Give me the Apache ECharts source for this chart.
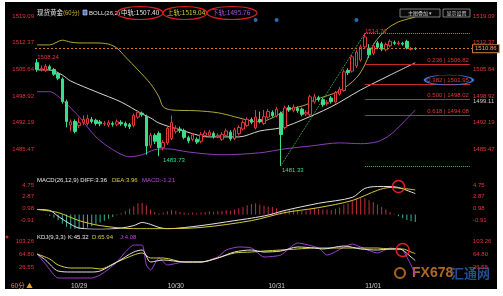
<!DOCTYPE html>
<html><head><meta charset="utf-8">
<script src="https://cdn.jsdelivr.net/npm/echarts@6/dist/echarts.min.js"></script>
<style>
html,body{margin:0;padding:0;background:#fff;}
#bg{position:absolute;left:5px;top:2px;width:492px;height:287px;background:#000;}
#c{position:absolute;left:0;top:0;width:503px;height:296px;}
</style>
</head><body><div id="bg"></div><div id="c"></div>
<script>
// ---------- DATA ----------
const slotCount = 104;
const categories = Array.from({length: slotCount}, (_, i) => String(i));
const dateLabelIdx = [10, 33, 57, 80];
const dateLabels = ['10/29', '10/30', '10/31', '11/01'];

// [open, close, low, high]
const ohlc = [
[1507.3,1505.6,1505.0,1508.24],[1505.6,1505.9,1505.1,1506.6],[1505.4,1506.4,1505.0,1507.0],[1506.3,1505.8,1505.3,1506.8],
[1505.6,1504.4,1504.0,1506.0],[1504.6,1503.4,1502.9,1505.0],[1503.2,1497.5,1497.0,1503.6],[1497.5,1492.5,1491.0,1498.0],
[1491.6,1492.4,1490.0,1493.0],[1492.5,1490.0,1489.5,1493.0],[1491.5,1492.2,1490.8,1493.5],[1492.2,1493.0,1491.6,1494.0],
[1492.0,1493.2,1491.5,1494.2],[1493.0,1492.5,1492.0,1493.6],[1492.8,1492.0,1491.5,1493.2],[1492.4,1491.9,1491.3,1492.9],
[1491.9,1492.0,1491.4,1492.6],[1491.6,1492.2,1491.1,1492.8],[1492.0,1491.8,1491.2,1492.5],[1491.8,1492.4,1491.3,1493.0],
[1492.3,1491.9,1491.4,1492.8],[1492.0,1491.4,1490.9,1492.5],[1491.7,1491.2,1490.6,1492.1],[1491.5,1494.0,1491.0,1494.5],
[1493.6,1494.8,1493.2,1495.3],[1494.6,1494.2,1493.7,1495.0],[1493.8,1486.3,1484.1,1494.2],[1486.5,1489.0,1485.8,1489.6],
[1489.0,1487.5,1486.8,1489.5],[1489.5,1485.9,1483.73,1490.0],[1485.9,1487.2,1485.2,1487.8],[1487.1,1490.8,1486.6,1491.4],
[1488.2,1492.2,1487.8,1494.0],[1490.0,1490.8,1489.4,1491.5],[1490.6,1490.2,1489.6,1491.2],[1490.2,1488.5,1488.0,1490.7],
[1488.4,1487.6,1487.0,1488.9],[1488.0,1489.1,1487.5,1489.6],[1488.0,1487.3,1486.8,1488.5],[1487.5,1489.2,1487.0,1489.8],
[1489.0,1489.6,1488.5,1490.2],[1489.0,1489.8,1488.6,1490.4],[1489.5,1488.7,1488.2,1490.0],[1488.8,1489.0,1488.3,1489.5],
[1488.0,1489.2,1487.6,1489.8],[1489.0,1490.1,1488.6,1490.7],[1489.8,1488.1,1487.6,1490.3],[1488.2,1490.4,1487.8,1490.9],
[1489.4,1491.0,1489.0,1491.5],[1490.6,1492.2,1490.2,1492.8],[1491.5,1493.0,1491.1,1493.6],[1493.0,1492.3,1491.8,1493.5],
[1490.9,1493.6,1490.5,1495.4],[1493.0,1492.5,1492.0,1495.0],[1492.0,1493.7,1491.6,1495.4],[1493.6,1495.0,1493.2,1495.6],
[1494.8,1494.0,1493.5,1495.3],[1493.9,1495.6,1493.5,1496.2],[1494.5,1489.2,1481.33,1495.0],[1491.0,1495.9,1490.5,1496.5],
[1496.0,1495.4,1494.9,1496.6],[1495.3,1496.1,1494.8,1496.8],[1495.8,1495.2,1494.7,1496.3],[1495.6,1494.3,1493.8,1496.0],
[1494.4,1494.8,1493.9,1495.3],[1494.2,1498.7,1493.8,1499.2],[1497.4,1498.7,1497.0,1499.5],[1498.5,1498.0,1497.5,1499.0],
[1498.0,1496.7,1496.2,1498.4],[1497.0,1497.3,1496.5,1497.9],[1498.4,1497.5,1497.0,1498.9],[1497.4,1499.7,1497.0,1500.2],
[1499.4,1500.6,1499.0,1501.2],[1500.3,1505.0,1500.0,1505.6],[1505.4,1504.8,1504.2,1505.9],[1505.2,1508.8,1504.8,1509.3],
[1506.5,1510.0,1506.0,1510.6],[1508.0,1511.3,1507.6,1511.9],[1511.3,1513.8,1510.9,1514.70],[1511.0,1509.3,1508.5,1512.0],
[1509.7,1511.6,1509.2,1512.2],[1512.3,1511.2,1510.7,1512.8],[1512.1,1510.7,1510.2,1512.6],[1510.6,1511.9,1510.2,1512.4],
[1511.6,1512.7,1511.2,1513.2],[1512.4,1512.2,1511.8,1512.9],[1512.1,1512.3,1511.7,1512.8],[1512.2,1512.0,1511.6,1512.6],
[1512.7,1511.1,1510.7,1513.1],[1510.7,1510.9,1510.4,1511.3],[1510.9,1510.86,1510.5,1511.2]
];

// Bollinger bands: [candle index, value]
const upperBand = [[0,1511.8],[3,1511.8],[6,1513.0],[8,1512.5],[10,1512.3],[14,1512.3],[17,1512.0],[19,1511.0],[21,1508.8],[24,1505.5],[27,1502.0],[29,1498.7],[30,1496.2],[32,1495.4],[38,1495.2],[43,1494.7],[47,1493.7],[51,1492.6],[53,1492.4],[56,1493.4],[59,1495.2],[64,1496.7],[66,1497.9],[72,1500.2],[76,1503.5],[78,1506.8],[80,1511.8],[83,1515.6],[86,1517.6],[90,1518.8]];
const middleBand = [[0,1505.5],[3,1505.5],[6,1504.2],[8,1502.7],[14,1500.0],[20,1497.4],[25,1494.4],[27,1493.4],[29,1492.1],[34,1490.4],[41,1488.6],[48,1488.6],[53,1490.1],[58,1490.9],[62,1492.4],[70,1496.2],[77,1500.45],[84,1504.2],[90,1507.3]];
const lowerBand = [[0,1500.0],[3,1500.0],[6,1497.9],[10,1493.7],[14,1488.6],[18,1485.4],[22,1483.6],[25,1484.1],[28,1485.4],[31,1485.6],[36,1484.8],[44,1484.1],[53,1484.6],[59,1485.6],[65,1486.3],[72,1487.1],[77,1486.9],[81,1487.4],[84,1489.1],[87,1492.1],[90,1495.4]];

const priceTicks = [1485.47, 1492.19, 1498.92, 1505.64, 1512.37, 1519.09];
const lastPrice = 1510.86;
const swingHigh = 1514.70, swingLow = 1481.33;
const fibRatios = ['0.236', '0.382', '0.500', '0.618'];
const fibLevels = [1506.82, 1501.95, 1498.02, 1494.08];
const eventMarks = [[52, 1518.08], [57, 1518.08], [76, 1518.08]];

// MACD
const macdHist = [
0.05,0.02,-0.05,-0.2,-0.5,-0.9,-1.5,-2.0,-2.3,-2.4,
-2.4,-2.3,-2.1,-1.9,-1.6,-1.3,-1.0,-0.7,-0.4,-0.15,
0.2,0.5,0.9,1.3,1.8,1.9,1.5,0.8,0.4,0.2,
0.3,0.5,0.7,0.6,0.4,0.3,0.2,0.3,0.2,0.3,
0.4,0.5,0.4,0.5,0.6,0.7,0.6,0.8,1.0,1.2,
1.5,1.7,1.8,1.6,1.4,1.3,1.2,1.0,0.5,0.6,
0.7,0.8,0.7,0.6,0.6,0.9,1.0,0.9,0.8,0.8,
0.7,0.9,1.1,1.6,1.8,2.2,2.5,2.6,2.6,2.3,
2.0,1.6,1.2,0.8,0.4,0.1,-0.3,-0.6,-0.9,-1.1,
-1.21];
const diffLine = [[0,0.8],[3,0.65],[5,-0.3],[8,-1.6],[10,-2.2],[15,-2.4],[20,-2.2],[23,-1.8],[25,-1.3],[27,-1.6],[29,-2.1],[31,-2.3],[39,-1.8],[47,-1.0],[51,-0.6],[55,-0.1],[59,0.65],[67,1.8],[75,2.75],[78,4.2],[81,4.5],[84,4.5],[86,4.35],[90,3.36]];
const deaLine = [[0,0.8],[5,0.3],[10,-1.0],[15,-1.8],[23,-2.3],[29,-2.3],[39,-2.1],[51,-1.0],[59,0.3],[67,1.1],[75,2.25],[81,3.9],[84,4.35],[87,4.2],[90,3.96]];
const macdTicks = [-0.91, 0.98, 2.87, 4.75];

// KDJ
const kLine = [[0,64.8],[2,47],[5,14.5],[8,11.6],[13,11.6],[15,14.5],[19,41],[23,70.7],[25,76.6],[27,41.1],[30,47.1],[35,41.1],[39,41.1],[43,53],[47,70.7],[51,76.6],[54,70.7],[58,73.6],[62,85.5],[66,82.5],[68,79.6],[73,88.4],[77,79.6],[81,76.6],[84,79.6],[86,79.6],[87,76.6],[89,56],[90,45.32]];
const dLine = [[0,64.8],[3,50],[5,32.3],[8,23.4],[13,23.4],[15,20.5],[19,41],[23,61.8],[25,67.8],[27,53],[30,53],[35,41.1],[39,41.1],[43,53],[47,67.8],[51,70.7],[54,73.6],[58,76.6],[62,79.6],[66,82.5],[73,82.5],[77,82.5],[81,82.5],[84,79.6],[87,79.6],[89,70.7],[90,65.94]];
const jLine = [[0,64.8],[2,35],[5,-6.2],[8,-6.2],[13,-6.2],[15,2.7],[17,20],[19,41],[21,70.7],[23,91.4],[25,91.4],[26,32.3],[27,17.5],[29,53],[31,32.3],[35,41.1],[39,41.1],[43,56],[45,76.6],[48,85.5],[51,82.5],[54,56],[58,61.8],[62,97.3],[67,82.5],[69,61.8],[75,94.3],[77,85.5],[81,67.8],[84,82.5],[86,79.6],[87,76.6],[89,32.3],[90,4.08]];
const kdjTicks = [26.55, 64.80, 103.26];

// ---------- CHART ----------
const RED = '#e0383c', GREEN = '#3ddc8a', FONT = '"Liberation Sans", Arial, sans-serif', CJK = '"Noto Sans CJK SC", sans-serif';
const chart = echarts.init(document.getElementById('c'), null, {renderer: 'canvas', width: 503, height: 296});

function xAx(gi, showLabel) {
  return {type: 'category', gridIndex: gi, data: categories, boundaryGap: true,
    axisLine: {show: false}, axisTick: {show: false}, splitLine: {show: false},
    axisLabel: showLabel ? {show: true, interval: 0, color: '#cfcfcf', fontSize: 6.5, fontFamily: FONT, margin: 3,
      formatter: (v, i) => { const k = dateLabelIdx.indexOf(i); return k >= 0 ? dateLabels[k] : ''; }} : {show: false}};
}
function yAx(gi, pos, min, max, ticks, fmt) {
  return {type: 'value', gridIndex: gi, position: pos, min: min, max: max, scale: true,
    axisLine: {show: false}, axisTick: {show: false}, splitLine: {show: false},
    axisLabel: {show: true, customValues: ticks, color: RED, fontSize: 6, fontFamily: FONT, margin: 1,
      formatter: fmt}};
}
const pf = v => v.toFixed(2);

const fibLines = fibLevels.map((lv, k) => [
  {coord: [categories[78], lv], label: {show: true, position: 'insideEndTop', formatter: fibRatios[k] + ' | ' + lv.toFixed(2), color: RED, fontSize: 6, fontFamily: FONT, distance: 1}},
  {coord: [categories[slotCount - 1], lv]}
]);
const greenStyle = {color: '#3cc060', type: 'dotted', width: 1};

const option = {
  backgroundColor: 'transparent',
  animation: false,
  grid: [
    {left: 35, right: 31, top: 16, height: 160},
    {left: 35, right: 31, top: 181, height: 48},
    {left: 35, right: 31, top: 233, height: 47}
  ],
  xAxis: [xAx(0, false), xAx(1, false), xAx(2, true)],
  yAxis: [
    yAx(0, 'left', 1478.75, 1519.09, priceTicks, pf),
    yAx(0, 'right', 1478.75, 1519.09, priceTicks, pf),
    yAx(1, 'left', -2.35, 5.395, macdTicks, pf),
    yAx(1, 'right', -2.35, 5.395, macdTicks, pf),
    yAx(2, 'left', -12.1, 126.9, kdjTicks, pf),
    yAx(2, 'right', -12.1, 126.9, kdjTicks, pf)
  ],
  series: [
    {type: 'line', xAxisIndex: 0, yAxisIndex: 0, data: upperBand, smooth: 0.3, showSymbol: false, z: 1,
      lineStyle: {color: '#b3a63c', width: 1}},
    {type: 'line', xAxisIndex: 0, yAxisIndex: 0, data: middleBand, smooth: 0.3, showSymbol: false, z: 1,
      lineStyle: {color: '#d8d8d0', width: 1}},
    {type: 'line', xAxisIndex: 0, yAxisIndex: 0, data: lowerBand, smooth: 0.3, showSymbol: false, z: 1,
      lineStyle: {color: '#8f3cb8', width: 1}},
    {type: 'candlestick', xAxisIndex: 0, yAxisIndex: 0, data: ohlc, barWidth: 3, z: 3,
      itemStyle: {color: '#000', color0: GREEN, borderColor: RED, borderColor0: GREEN, borderWidth: 1},
      markLine: {silent: true, symbol: ['none', 'none'], animation: false,
        data: [
          {yAxis: lastPrice, lineStyle: {color: '#c8782a', type: [2, 2], width: 1},
            label: {show: true, position: 'end', formatter: lastPrice.toFixed(2), color: '#e8a868', fontSize: 6, fontFamily: FONT,
              backgroundColor: '#000', borderColor: '#c07838', borderWidth: 1, padding: [1, 2, 0, 2], distance: 1}},
          ...fibLines.map(l => [Object.assign({lineStyle: {color: '#c8282c', type: 'solid', width: 1}}, l[0]), l[1]]),
          [{coord: [categories[78], swingHigh], lineStyle: greenStyle, label: {show: false}}, {coord: [categories[slotCount - 1], swingHigh]}],
          [{coord: [categories[78], swingLow], lineStyle: greenStyle, label: {show: false}}, {coord: [categories[slotCount - 1], swingLow]}],
          [{coord: [categories[58], swingLow], lineStyle: greenStyle, label: {show: false}}, {coord: [categories[78], swingHigh]}]
        ]},
      markPoint: {silent: true, animation: false,
        data: [
          {coord: [categories[0], 1508.24], symbolSize: 0, label: {show: true, formatter: '1508.24', color: RED, fontSize: 6, fontFamily: FONT, offset: [11, -2]}},
          {coord: [categories[29], 1483.73], symbolSize: 0, label: {show: true, formatter: '1483.73', color: GREEN, fontSize: 6, fontFamily: FONT, offset: [15, 4]}},
          {coord: [categories[58], swingLow], symbolSize: 0, label: {show: true, formatter: '1481.33', color: GREEN, fontSize: 6, fontFamily: FONT, offset: [12, 5]}},
          {coord: [categories[78], swingHigh], symbolSize: 0, label: {show: true, formatter: '1514.70', color: RED, fontSize: 6, fontFamily: FONT, offset: [11, -2]}},
          {coord: [categories[98], fibLevels[1]], symbol: 'path://M0,10A20,10 0 1,1 40,10A20,10 0 1,1 0,10Z', symbolSize: [48, 10], symbolOffset: [0, -4],
            itemStyle: {color: 'rgba(0,0,0,0)', borderColor: '#3a78e0', borderWidth: 1.2}, label: {show: false}}
        ]}
    },
    {type: 'scatter', xAxisIndex: 0, yAxisIndex: 0, data: eventMarks, symbolSize: 4, z: 4,
      itemStyle: {color: '#2f8ae0'}},
    {type: 'bar', xAxisIndex: 1, yAxisIndex: 2, data: macdHist, barWidth: 1,
      itemStyle: {color: p => p.value >= 0 ? '#c0303a' : '#3aae98'}},
    {type: 'line', xAxisIndex: 1, yAxisIndex: 2, data: diffLine, smooth: 0.3, showSymbol: false,
      lineStyle: {color: '#e4e4e4', width: 1},
      markPoint: {silent: true, data: [{coord: [categories[86], 4.5], symbol: 'circle', symbolSize: 12,
        itemStyle: {color: 'rgba(0,0,0,0)', borderColor: '#e02020', borderWidth: 1.5}, label: {show: false}}]}},
    {type: 'line', xAxisIndex: 1, yAxisIndex: 2, data: deaLine, smooth: 0.3, showSymbol: false,
      lineStyle: {color: '#d6cc3a', width: 1}},
    {type: 'line', xAxisIndex: 2, yAxisIndex: 4, data: jLine, smooth: 0.2, showSymbol: false,
      lineStyle: {color: '#a03ed0', width: 1}},
    {type: 'line', xAxisIndex: 2, yAxisIndex: 4, data: dLine, smooth: 0.3, showSymbol: false,
      lineStyle: {color: '#d6cc3a', width: 1}},
    {type: 'line', xAxisIndex: 2, yAxisIndex: 4, data: kLine, smooth: 0.3, showSymbol: false,
      lineStyle: {color: '#e4e4e4', width: 1},
      markPoint: {silent: true, data: [{coord: [categories[87], 76.6], symbol: 'circle', symbolSize: 13,
        itemStyle: {color: 'rgba(0,0,0,0)', borderColor: '#e02020', borderWidth: 1.5}, label: {show: false}}]}}
  ],
  graphic: [
    {type: 'text', x: 37, y: 13, style: {text: '现货黄金', fill: '#e6e6e6', font: '6.5px ' + CJK, verticalAlign: 'middle'}},
    {type: 'text', x: 63, y: 13, style: {text: '(60分)', fill: '#d8b040', font: '6px ' + CJK, verticalAlign: 'middle'}},
    {type: 'rect', shape: {x: 83, y: 10, width: 4, height: 5}, style: {fill: '#4a78d0', stroke: '#ddd', lineWidth: 0.6}},
    {type: 'text', x: 89, y: 13, style: {text: 'BOLL(26,2)', fill: '#e6e6e6', font: '6px ' + FONT, verticalAlign: 'middle'}},
    {type: 'text', x: 121, y: 13, style: {text: '中轨:1507.40', fill: '#e6e6e6', font: '6.5px ' + CJK, verticalAlign: 'middle'}},
    {type: 'text', x: 167, y: 13, style: {text: '上轨:1519.04', fill: '#d6cc3a', font: '6.5px ' + CJK, verticalAlign: 'middle'}},
    {type: 'text', x: 212, y: 13, style: {text: '下轨:1495.76', fill: '#b050d8', font: '6.5px ' + CJK, verticalAlign: 'middle'}},
    {type: 'ellipse', shape: {cx: 140, cy: 13, rx: 23, ry: 6.5}, style: {fill: 'none', stroke: '#e02020', lineWidth: 1.2}},
    {type: 'ellipse', shape: {cx: 185, cy: 13, rx: 22, ry: 6.5}, style: {fill: 'none', stroke: '#e02020', lineWidth: 1.2}},
    {type: 'ellipse', shape: {cx: 232, cy: 13, rx: 25, ry: 6.5}, style: {fill: 'none', stroke: '#e02020', lineWidth: 1.2}},
    {type: 'rect', shape: {x: 400, y: 9, width: 40, height: 8}, style: {fill: '#0a0a0a', stroke: '#9a9a9a', lineWidth: 0.8}},
    {type: 'text', x: 420, y: 13, style: {text: '主图叠加 ▾', fill: '#cfcfcf', font: '5px ' + CJK, align: 'center', verticalAlign: 'middle'}},
    {type: 'rect', shape: {x: 443, y: 9, width: 27, height: 8}, style: {fill: '#0a0a0a', stroke: '#9a9a9a', lineWidth: 0.8}},
    {type: 'text', x: 456.5, y: 13, style: {text: '显示设置', fill: '#cfcfcf', font: '5px ' + CJK, align: 'center', verticalAlign: 'middle'}},
    {type: 'text', x: 473, y: 101.5, style: {text: '1499.11', fill: '#c8c8c8', font: '6px ' + FONT, verticalAlign: 'middle'}},
    {type: 'text', x: 37, y: 180, style: {text: 'MACD(26,12,9) DIFF:3.36', fill: '#e6e6e6', font: '6px ' + FONT, verticalAlign: 'middle'}},
    {type: 'text', x: 112, y: 180, style: {text: 'DEA:3.96', fill: '#d6cc3a', font: '6px ' + FONT, verticalAlign: 'middle'}},
    {type: 'text', x: 142, y: 180, style: {text: 'MACD:-1.21', fill: '#c040e0', font: '6px ' + FONT, verticalAlign: 'middle'}},
    {type: 'circle', shape: {cx: 7, cy: 237, r: 1.5}, style: {fill: '#e02020'}},
    {type: 'text', x: 37, y: 237, style: {text: 'KDJ(9,3,3)', fill: '#e6e6e6', font: '6px ' + FONT, verticalAlign: 'middle'}},
    {type: 'text', x: 68, y: 237, style: {text: 'K:45.32', fill: '#e6e6e6', font: '6px ' + FONT, verticalAlign: 'middle'}},
    {type: 'text', x: 92, y: 237, style: {text: 'D:65.94', fill: '#d6cc3a', font: '6px ' + FONT, verticalAlign: 'middle'}},
    {type: 'text', x: 120, y: 237, style: {text: 'J:4.08', fill: '#c040e0', font: '6px ' + FONT, verticalAlign: 'middle'}},
    {type: 'text', x: 11, y: 285.5, style: {text: '60分 ▲', fill: '#e0a020', font: '6.5px ' + CJK, verticalAlign: 'middle'}},
    {type: 'arc', shape: {cx: 400, cy: 273, r: 5, startAngle: 0, endAngle: Math.PI * 2}, style: {fill: 'none', stroke: 'rgba(217,130,43,0.75)', lineWidth: 2.2}},
    {type: 'text', x: 412, y: 273, style: {text: 'FX678', fill: 'rgba(217,130,43,0.8)', font: 'bold 14px ' + FONT, verticalAlign: 'middle'}},
    {type: 'text', x: 451, y: 273, style: {text: '汇通网', fill: 'rgba(42,92,168,0.85)', font: 'bold 13px ' + CJK, verticalAlign: 'middle'}}
  ]
};
chart.setOption(option);
</script>
</body></html>
